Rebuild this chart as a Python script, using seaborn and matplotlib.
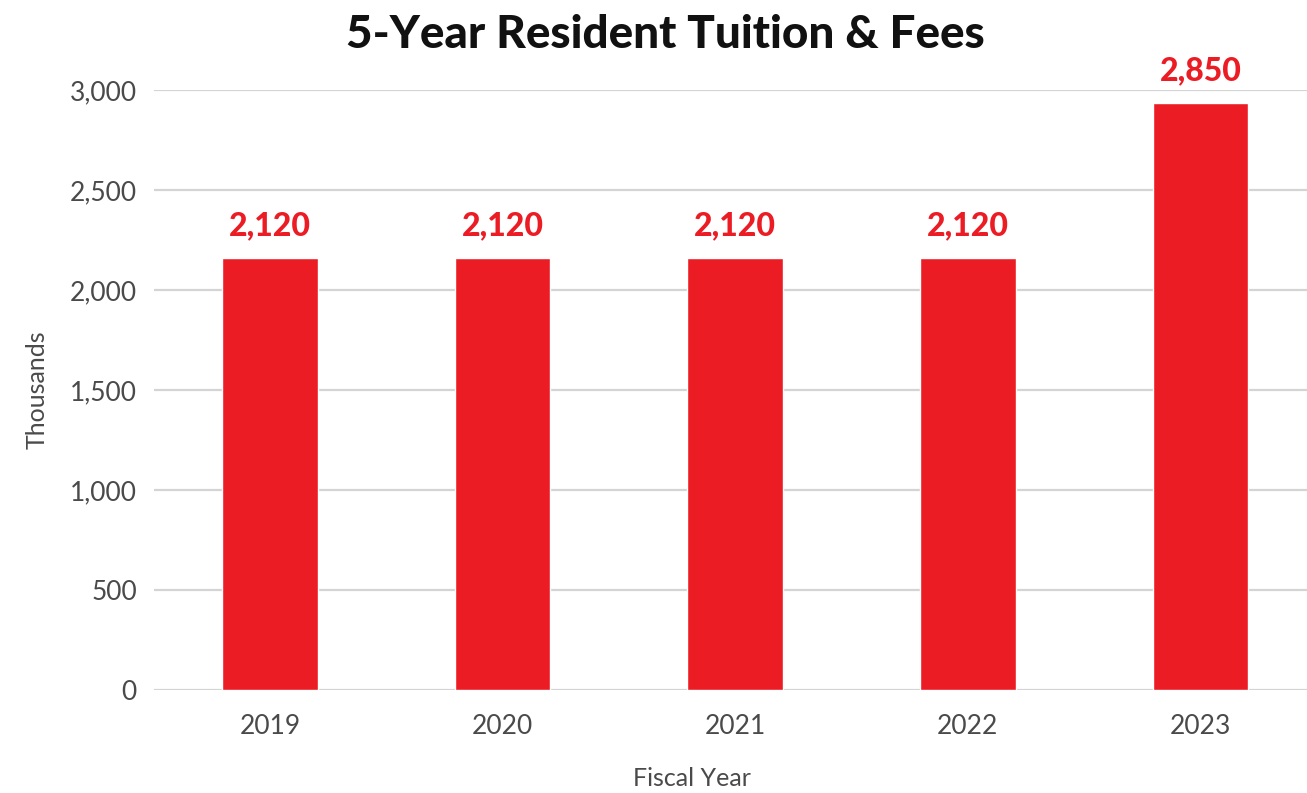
import matplotlib
matplotlib.use('Agg')
import matplotlib.pyplot as plt
import seaborn as sns
import pandas as pd

# data
years = ['2019', '2020', '2021', '2022', '2023']
bar_heights = [2160, 2160, 2160, 2160, 2935]  # bar tops as drawn against the axis
bar_labels = ['2,120', '2,120', '2,120', '2,120', '2,850']
y_ticks = [0, 500, 1000, 1500, 2000, 2500, 3000]

RED = '#ec1c24'


def main():
    df = pd.DataFrame({'Fiscal Year': years, 'Thousands': bar_heights})

    sns.set_theme(style='white')
    plt.rcParams['font.family'] = ['Lato', 'DejaVu Sans']

    fig = plt.figure(figsize=(13.07, 7.93), dpi=100)
    ax = fig.add_axes([0.1175, 0.1299, 0.890, 0.7566])

    sns.barplot(x='Fiscal Year', y='Thousands', data=df, color=RED,
                saturation=1, width=0.41, ax=ax, zorder=3)

    ax.set_ylim(0, 3000)
    ax.set_xlim(-0.5, len(years) - 0.5)
    ax.set_yticks(y_ticks)
    ax.set_yticklabels([f'{v:,}' for v in y_ticks])
    ax.grid(axis='y', color='#d4d4d4', linewidth=1.6, zorder=0)
    for s in ax.spines.values():
        s.set_visible(False)
    ax.tick_params(axis='both', length=0, colors='#4a4a4a', labelsize=19)
    ax.tick_params(axis='y', pad=12)
    ax.tick_params(axis='x', pad=17)

    # value labels above bars
    for i, lab in enumerate(bar_labels):
        ax.annotate(lab, (i, bar_heights[i]), xytext=(0, 13),
                    textcoords='offset points', ha='center', va='bottom',
                    color=RED, fontsize=23, fontweight='black',
                    annotation_clip=False)

    ax.set_xlabel('Fiscal Year', fontsize=18, color='#4a4a4a')
    ax.set_ylabel('Thousands', fontsize=18, color='#4a4a4a')
    ax.xaxis.set_label_coords(0.463, -0.128)
    ax.yaxis.set_label_coords(-0.09, 0.5)
    fig.suptitle('5-Year Resident Tuition & Fees', x=0.509, y=0.982,
                 fontsize=33, fontweight='black', color='#111111')

    plt.savefig('out.png', dpi=100)


if __name__ == "__main__":
    main()
